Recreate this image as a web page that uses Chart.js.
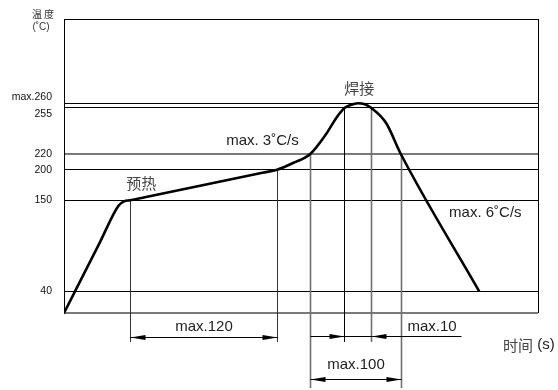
<!DOCTYPE html>
<html>
<head>
<meta charset="utf-8">
<script src="https://cdn.jsdelivr.net/npm/chart.js@4/dist/chart.umd.min.js"></script>
<style>
  html, body { margin: 0; padding: 0; background: #fff; }
  canvas { display: block; }
</style>
</head>
<body>
<canvas id="profile" width="558" height="390"></canvas>
<script>
// Reflow soldering profile: time (s) and temperature (°C) along the curve
const timeS = [0, 29.4, 44.5, 49, 54, 66, 162, 174, 187, 201, 214, 223, 229, 234, 240, 245, 251, 263, 275, 339];
const tempC = [0, 99.5, 143.5, 148.7, 150, 155, 195, 200, 208.5, 220, 235.2, 248.4, 255, 258.2, 260, 259.3, 255, 243.6, 220, 40];

// Temperature levels marked on the axis and their labels
const levelValues = [0, 40, 150, 200, 220, 255, 260, 300];
const levelLabels = ['', '40', '150', '200', '220', '255', 'max.260', ''];

// Timed stages of the profile (start / end time and temperature at each end)
const stageLabels = ['max.120', 'max.100', 'max.10'];
const stageFromS = [54, 201, 229];
const stageToS = [174, 275, 251];
const stageFromC = [150, 220, 255];
const stageToC = [200, 220, 255];

// Phase names and ramp-rate notes
const noteTexts = ['预热', 'max. 3˚C/s', '焊接', 'max. 6˚C/s'];

// The temperature axis is a schematic one: each marked level sits at a
// fixed share of the plot height, linear between neighbouring levels.
const levelShare = [0, 0.0738, 0.3833, 0.4874, 0.5408, 0.6973, 0.7133, 1];

function shareOf(v) {
  const n = levelValues.length;
  if (v <= levelValues[0]) return levelShare[0];
  for (let i = 1; i < n; i++) {
    if (v <= levelValues[i]) {
      const f = (v - levelValues[i - 1]) / (levelValues[i] - levelValues[i - 1]);
      return levelShare[i - 1] + f * (levelShare[i] - levelShare[i - 1]);
    }
  }
  return levelShare[n - 1];
}
function valueOf(s) {
  const n = levelShare.length;
  for (let i = 1; i < n; i++) {
    if (s <= levelShare[i]) {
      const f = (s - levelShare[i - 1]) / (levelShare[i] - levelShare[i - 1]);
      return levelValues[i - 1] + f * (levelValues[i] - levelValues[i - 1]);
    }
  }
  return levelValues[n - 1];
}

class LevelScale extends Chart.LinearScale {
  static id = 'level';
  static defaults = Chart.LinearScale.defaults;
  getPixelForValue(value) {
    return this.getPixelForDecimal(shareOf(value));
  }
  getValueForPixel(pixel) {
    return valueOf(this.getDecimalForPixel(pixel));
  }
}
Chart.register(LevelScale);

const LATIN = '"Liberation Sans", Arial, "Noto Sans CJK SC", sans-serif';
const CJK = '"Noto Sans CJK SC", "Liberation Sans", sans-serif';

function arrowHead(ctx, tipX, y, dir) {
  ctx.beginPath();
  ctx.moveTo(tipX, y);
  ctx.lineTo(tipX - dir * 15, y - 2.5);
  ctx.lineTo(tipX - dir * 15, y + 2.5);
  ctx.closePath();
  ctx.fill();
}

const profileMarks = {
  id: 'profileMarks',
  beforeDatasetsDraw(chart) {
    const { ctx, chartArea: a, scales: { x, y } } = chart;
    ctx.save();

    // right edge of the frame
    ctx.strokeStyle = '#000';
    ctx.lineWidth = 1;
    ctx.beginPath();
    ctx.moveTo(a.right + 0.5, a.top);
    ctx.lineTo(a.right + 0.5, a.bottom);
    ctx.stroke();

    // extension lines dropped from the curve for each stage
    const drop = [29, 75, 29];
    const styles = [
      [['#333', 1], ['#333', 1]],
      [['#707070', 1.6], ['#707070', 1.6]],
      [['#000', 1], ['#707070', 1.6]]
    ];
    stageLabels.forEach((_, i) => {
      [[stageFromS[i], stageFromC[i]], [stageToS[i], stageToC[i]]].forEach(([t, c], k) => {
        const px = Math.round(x.getPixelForValue(t)) + 0.5;
        ctx.strokeStyle = styles[i][k][0];
        ctx.lineWidth = styles[i][k][1];
        ctx.beginPath();
        ctx.moveTo(px, y.getPixelForValue(c));
        ctx.lineTo(px, a.bottom + drop[i]);
        ctx.stroke();
      });
    });
    ctx.restore();
  },
  afterDatasetsDraw(chart) {
    const { ctx, chartArea: a, scales: { x, y } } = chart;
    ctx.save();
    ctx.fillStyle = '#000';
    ctx.strokeStyle = '#000';
    ctx.lineWidth = 1;
    ctx.textAlign = 'center';
    ctx.textBaseline = 'middle';

    // dimension lines under the plot
    const x0 = stageFromS.map(t => Math.round(x.getPixelForValue(t)) + 0.5);
    const x1 = stageToS.map(t => Math.round(x.getPixelForValue(t)) + 0.5);
    const lineY = [a.bottom + 24.5, a.bottom + 66.5, a.bottom + 23.5];
    const textY = [a.bottom + 14, a.bottom + 52, a.bottom + 14];

    ctx.font = '15px ' + LATIN;
    for (let i = 0; i < 2; i++) {
      ctx.beginPath();
      ctx.moveTo(x0[i], lineY[i]);
      ctx.lineTo(x1[i], lineY[i]);
      ctx.stroke();
      arrowHead(ctx, x0[i], lineY[i], -1);
      arrowHead(ctx, x1[i], lineY[i], 1);
      ctx.fillStyle = '#222';
      ctx.fillText(stageLabels[i], (x0[i] + x1[i]) / 2, textY[i]);
      ctx.fillStyle = '#000';
    }
    // short stage: arrows from outside, label set off to the right
    ctx.beginPath();
    ctx.moveTo(x0[2] - 34, lineY[2]);
    ctx.lineTo(x1[2] + 90, lineY[2]);
    ctx.stroke();
    arrowHead(ctx, x0[2], lineY[2], 1);
    arrowHead(ctx, x1[2], lineY[2], -1);
    ctx.fillStyle = '#222';
    ctx.textAlign = 'left';
    ctx.fillText(stageLabels[2], x1[2] + 36, textY[2]);

    // phase names and ramp-rate notes
    const notePos = [[63, 178], [162, 230], [241, 267], [344, 135]];
    ctx.textAlign = 'center';
    noteTexts.forEach((txt, i) => {
      const cjk = /[\u4e00-\u9fff]/.test(txt);
      ctx.font = '15px ' + (cjk ? CJK : LATIN);
      ctx.fillStyle = cjk ? '#444' : '#222';
      ctx.fillText(txt, x.getPixelForValue(notePos[i][0]), y.getPixelForValue(notePos[i][1]));
    });

    // axis titles
    ctx.fillStyle = '#333';
    ctx.font = '10px ' + CJK;
    ctx.fillText('温 度', a.left - 21, a.top - 5);
    ctx.font = '10px ' + LATIN;
    ctx.fillText('(˚C)', a.left - 23, a.top + 8);

    ctx.textAlign = 'left';
    ctx.font = '15px ' + CJK;
    ctx.fillStyle = '#444';
    ctx.fillText('时间', a.right - 35, a.bottom + 32);
    const w = ctx.measureText('时间').width;
    ctx.font = '15px ' + LATIN;
    ctx.fillStyle = '#222';
    ctx.fillText(' (s)', a.right - 35 + w, a.bottom + 32);

    ctx.restore();
  }
};

new Chart(document.getElementById('profile'), {
  type: 'line',
  data: {
    datasets: [{
      data: timeS.map((t, i) => ({ x: t, y: tempC[i] })),
      borderColor: '#000',
      borderWidth: 2.6,
      pointRadius: 0,
      fill: false,
      cubicInterpolationMode: 'monotone'
    }]
  },
  options: {
    responsive: false,
    devicePixelRatio: 1,
    animation: false,
    layout: { padding: { top: 19, right: 20, bottom: 77, left: 0 } },
    plugins: { legend: { display: false }, tooltip: { enabled: false } },
    scales: {
      x: { type: 'linear', min: 0, max: 387, display: false },
      y: {
        type: 'level',
        min: 0,
        max: 300,
        afterFit: s => { s.width = 64; },
        afterBuildTicks: s => { s.ticks = levelValues.map(v => ({ value: v })); },
        border: { color: '#000', width: 1 },
        grid: {
          drawTicks: false,
          color: c => (c.tick && (c.tick.value === 220 || c.tick.value === 0)) ? '#7a7a7a' : '#000',
          lineWidth: c => (c.tick && (c.tick.value === 220 || c.tick.value === 0)) ? 2 : 1
        },
        ticks: {
          autoSkip: false,
          padding: 12,
          color: '#111',
          font: { family: LATIN, size: 10.5, lineHeight: 1.1 },
          callback: v => {
            const i = levelValues.indexOf(v);
            const label = i >= 0 ? levelLabels[i] : '';
            if (v === 260) return [label, ''];
            if (v === 255) return ['', label];
            return label;
          }
        }
      }
    }
  },
  plugins: [profileMarks]
});
</script>
</body>
</html>
